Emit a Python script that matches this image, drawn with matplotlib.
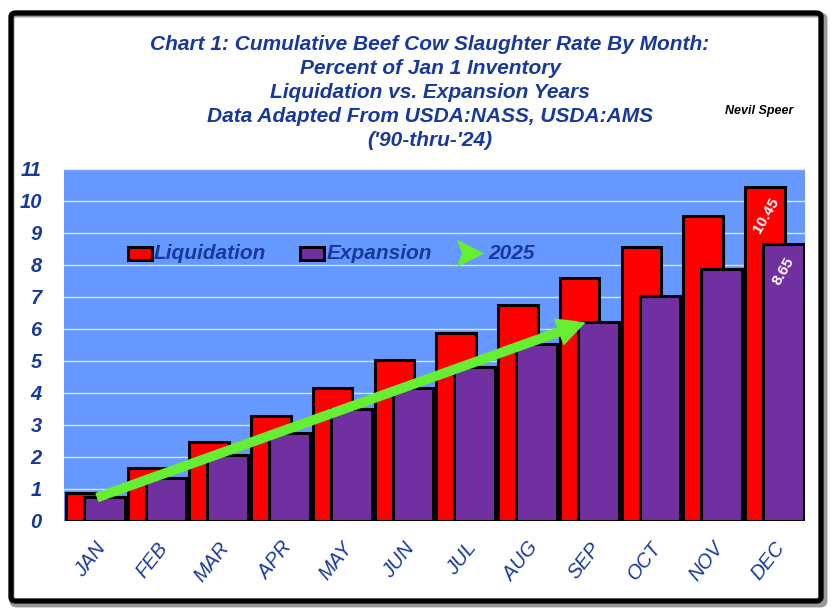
import matplotlib.pyplot as plt
from matplotlib.patches import Rectangle, FancyBboxPatch, FancyArrowPatch, Polygon

months = ["JAN", "FEB", "MAR", "APR", "MAY", "JUN", "JUL", "AUG", "SEP", "OCT", "NOV", "DEC"]
liquidation = [0.87, 1.64, 2.45, 3.28, 4.14, 5.03, 5.86, 6.75, 7.58, 8.57, 9.53, 10.45]
expansion = [0.75, 1.33, 2.06, 2.75, 3.48, 4.16, 4.82, 5.53, 6.22, 7.03, 7.86, 8.65]
# 2025 arrow: JAN -> SEP
arrow_months = [0, 8]
arrow_values = [0.70, 6.22]

title_lines = [
    "Chart 1: Cumulative Beef Cow Slaughter Rate By Month:",
    "Percent of Jan 1 Inventory",
    "Liquidation vs. Expansion Years",
    "Data Adapted From USDA:NASS, USDA:AMS",
    "('90-thru-'24)",
]

blue_txt = "#17399c"
red = "#ff0000"
purple = "#7030a0"
bg = "#6699ff"
green = "#66ee33"

plt.rcParams['font.family'] = ['Liberation Sans', 'DejaVu Sans']

fig = plt.figure(figsize=(8.32, 6.13), dpi=100)
fig.patch.set_facecolor("white")

# frame with shadow
W, H = 832, 613
shadow = FancyBboxPatch((12 / W, 1 - 605 / H), 813 / W, 590 / H,
                        boxstyle="round,pad=0,rounding_size=0.006",
                        transform=fig.transFigure, facecolor="none",
                        edgecolor="#999999", lw=3.5, zorder=0)
fig.patches.append(shadow)
frame = FancyBboxPatch((11 / W, 1 - 601 / H), 810 / W, 588 / H,
                       boxstyle="round,pad=0,rounding_size=0.006",
                       transform=fig.transFigure, facecolor="none",
                       edgecolor="black", lw=3.8, zorder=1)
fig.patches.append(frame)

ax = fig.add_axes([64 / W, 1 - 520.7 / H, 741 / W, 351.7 / H])
ax.set_facecolor(bg)
for s in ax.spines.values():
    s.set_visible(False)

x = list(range(len(months)))
ax.bar([i - 0.15 for i in x], liquidation, width=0.64, color=red,
       edgecolor="black", linewidth=2.2, zorder=2)
ax.bar([i + 0.15 for i in x], expansion, width=0.66, color=purple,
       edgecolor="black", linewidth=2.2, zorder=3)

ax.set_xlim(-0.5, 11.5)
ax.set_ylim(0, 11)
ax.yaxis.grid(True, color="#d6e2ff", linewidth=1.0, zorder=1)
ax.set_axisbelow(True)
ax.tick_params(axis="both", length=0)
ax.tick_params(axis="y", pad=16)
ax.set_yticks(range(0, 12))
ax.set_yticklabels([str(v) for v in range(0, 12)], fontsize=14.5,
                   fontweight="bold", fontstyle="italic", color=blue_txt)

ax.set_xticks(x)
ax.set_xticklabels(months, rotation=52, ha="right", va="top",
                   rotation_mode="anchor", fontsize=14.5, fontstyle="italic",
                   color=blue_txt)
ax.tick_params(axis="x", pad=13)

# value labels on DEC
ax.text(11 - 0.13, liquidation[-1] - 0.9, f"{liquidation[-1]:.2f}", rotation=60,
        ha="center", va="center", color="white", fontsize=11, fontweight="bold", zorder=5)
ax.text(11 + 0.15, expansion[-1] - 0.85, f"{expansion[-1]:.2f}", rotation=60,
        ha="center", va="center", color="white", fontsize=11, fontweight="bold", zorder=5)

# 2025 arrow
arr = FancyArrowPatch((arrow_months[0], arrow_values[0]), (arrow_months[1] - 0.03, arrow_values[1]),
                      arrowstyle="Simple,tail_width=0.5,head_width=1.6,head_length=1.6",
                      mutation_scale=12, color=green, zorder=6)
ax.add_patch(arr)

# legend drawn by hand
ly = 0.760
ax.add_patch(Rectangle((0.086, ly - 0.018), 0.033, 0.036, transform=ax.transAxes,
                       facecolor=red, edgecolor="black", lw=2.2, zorder=6))
ax.text(0.121, ly, "Liquidation", transform=ax.transAxes, ha="left", va="center",
        fontsize=15, fontweight="bold", fontstyle="italic", color=blue_txt, zorder=6)
ax.add_patch(Rectangle((0.318, ly - 0.018), 0.033, 0.036, transform=ax.transAxes,
                       facecolor=purple, edgecolor="black", lw=2.2, zorder=6))
ax.text(0.354, ly, "Expansion", transform=ax.transAxes, ha="left", va="center",
        fontsize=15, fontweight="bold", fontstyle="italic", color=blue_txt, zorder=6)
# notched arrowhead marker
head = [(0.530, ly + 0.040), (0.567, ly), (0.530, ly - 0.040), (0.537, ly)]
ax.add_patch(Polygon(head, closed=True, transform=ax.transAxes,
                     facecolor=green, edgecolor="none", zorder=6))
ax.text(0.572, ly, "2025", transform=ax.transAxes, ha="left", va="center",
        fontsize=15, fontweight="bold", fontstyle="italic", color=blue_txt, zorder=6)

# title
for k, line in enumerate(title_lines):
    fig.text(430 / W, 1 - (45 + k * 23.8) / H, line, ha="center", va="center",
             fontsize=15, fontweight="bold", fontstyle="italic", color=blue_txt)

fig.text(759 / W, 1 - 111 / H, "Nevil Speer", ha="center", va="center",
         fontsize=9, fontweight="bold", fontstyle="italic", color="black")

fig.savefig("out.png", dpi=100)
